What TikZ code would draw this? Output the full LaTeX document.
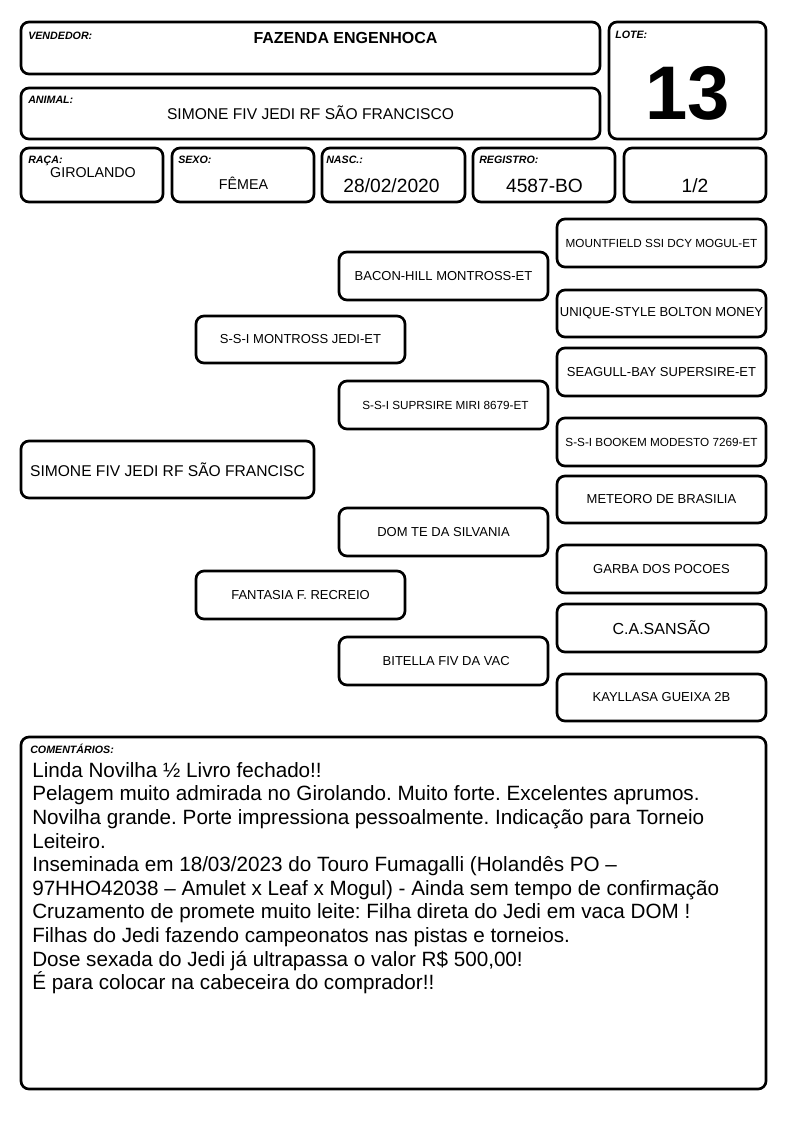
\documentclass[tikz,border=0pt]{standalone}
\usepackage{fontspec}
\setmainfont{Liberation Sans}
\frenchspacing
\tikzset{
  card/.style 2 args={draw, line width=2pt, rounded corners=6pt, inner sep=0pt,
    minimum width={(#1)*0.75pt}, minimum height={(#2)*0.75pt}},
  lbl/.style={anchor=base west, inner sep=0pt, font=\fontsize{8}{9}\selectfont\bfseries\itshape},
  val/.style={anchor=base, inner sep=0pt},
  ped/.style={inner sep=0pt, font=\fontsize{9.75}{11}\selectfont},
  peds/.style={inner sep=0pt, font=\fontsize{8.8}{10}\selectfont},
  cline/.style={anchor=base west, inner sep=0pt, font=\fontsize{15.5}{18}\selectfont}
}
\begin{document}
\begin{tikzpicture}[x=0.75pt,y=-0.75pt]
\useasboundingbox (0,0) rectangle (794,1123);
% header
\node[card={579}{52}] (vend) at (310.5,48) {};
\node[lbl] (vendl) at (28,40) {VENDEDOR:};
\node[val, font=\fontsize{12}{14}\selectfont\bfseries] (vendv) at (345.5,43.5) {FAZENDA ENGENHOCA};
\node[card={157}{117}] (lote) at (687.5,80.5) {};
\node[lbl] (lotel) at (615,39) {LOTE:};
\node[val, font=\fontsize{57}{58}\selectfont\bfseries] (lotev) at (687.5,120) {13};
\node[card={579}{51}] (anim) at (310.5,113.5) {};
\node[lbl] (animl) at (28,104) {ANIMAL:};
\node[val, font=\fontsize{11.7}{14}\selectfont] (animv) at (310.5,119.3) {SIMONE FIV JEDI RF SÃO FRANCISCO};
% row
\node[card={142}{54}] (raca) at (92,175) {};
\node[lbl] (racal) at (28,163.5) {RAÇA:};
\node[val, font=\fontsize{10.7}{12}\selectfont] (racav) at (93,178) {GIROLANDO};
\node[card={142}{54}] (sexo) at (243,175) {};
\node[lbl] (sexol) at (178,163.5) {SEXO:};
\node[val, font=\fontsize{10.7}{12}\selectfont] (sexov) at (243.5,189.3) {FÊMEA};
\node[card={143}{54}] (nasc) at (393.5,175) {};
\node[lbl] (nascl) at (326,163.5) {NASC.:};
\node[val, font=\fontsize{14.4}{16}\selectfont] (nascv) at (391.5,193) {28/02/2020};
\node[card={142}{54}] (regi) at (544,175) {};
\node[lbl] (regil) at (479,164) {REGISTRO:};
\node[val, font=\fontsize{14.4}{16}\selectfont] (regiv) at (544.5,193) {4587-BO};
\node[card={142}{54}] (frac) at (695,175) {};
\node[val, font=\fontsize{14.4}{16}\selectfont] (fracv) at (695,193) {1/2};
% pedigree
\node[card={293}{57}, ped, font=\fontsize{11.7}{14}\selectfont] (p0) at (167.5,469.5) {SIMONE FIV JEDI RF SÃO FRANCISC};
\node[card={209}{47}, ped] (p1a) at (300.5,339.5) {S-S-I MONTROSS JEDI-ET};
\node[card={209}{48}, ped] (p1b) at (300.5,595) {FANTASIA F. RECREIO};
\node[card={209}{48}, ped] (p2a) at (443.5,276) {BACON-HILL MONTROSS-ET};
\node[card={209}{48}, peds] (p2b) at (443.5,405) {\hspace{3pt}S-S-I SUPRSIRE MIRI 8679-ET};
\node[card={209}{48}, ped] (p2c) at (443.5,532) {DOM TE DA SILVANIA};
\node[card={209}{48}, ped] (p2d) at (443.5,661) {\hspace{4pt}BITELLA FIV DA VAC};
\node[card={209}{48}, peds] (p3a) at (661.5,243) {MOUNTFIELD SSI DCY MOGUL-ET};
\node[card={209}{47}, ped] (p3b) at (661.5,313.5) {UNIQUE-STYLE BOLTON MONEY\hspace{3pt}};
\node[card={209}{48}, ped] (p3c) at (661.5,372) {SEAGULL-BAY SUPERSIRE-ET};
\node[card={209}{48}, peds] (p3d) at (661.5,442) {S-S-I BOOKEM MODESTO 7269-ET};
\node[card={209}{47}, ped] (p3e) at (661.5,499.5) {METEORO DE BRASILIA};
\node[card={209}{48}, ped] (p3f) at (661.5,569) {GARBA DOS POCOES};
\node[card={209}{48}, ped, font=\fontsize{12}{14}\selectfont] (p3g) at (661.5,628) {C.A.SANSÃO};
\node[card={209}{47}, ped] (p3h) at (661.5,697.5) {KAYLLASA GUEIXA 2B};
% comments
\node[card={745}{352}] (com) at (393.5,913) {};
\node[lbl] (coml) at (30,753) {COMENTÁRIOS:};
\node[cline] (c1) at (32,777.3) {Linda Novilha ½ Livro fechado!!};
\node[cline] (c2) at (32,800.9) {Pelagem muito admirada no Girolando. Muito forte. Excelentes aprumos.};
\node[cline] (c3) at (32,824.5) {Novilha grande. Porte impressiona pessoalmente. Indicação para Torneio};
\node[cline] (c4) at (32,848.1) {Leiteiro.};
\node[cline] (c5) at (32,871.7) {Inseminada em 18/03/2023 do Touro Fumagalli (Holandês PO –};
\node[cline] (c6) at (32,895.3) {97HHO42038 – Amulet x Leaf x Mogul) - Ainda sem tempo de confirmação};
\node[cline] (c7) at (32,918.9) {Cruzamento de promete muito leite: Filha direta do Jedi em vaca DOM !};
\node[cline] (c8) at (32,942.5) {Filhas do Jedi fazendo campeonatos nas pistas e torneios.};
\node[cline] (c9) at (32,966.1) {Dose sexada do Jedi já ultrapassa o valor R\$ 500,00!};
\node[cline] (c10) at (32,989.7) {É para colocar na cabeceira do comprador!!};
\end{tikzpicture}
\end{document}
